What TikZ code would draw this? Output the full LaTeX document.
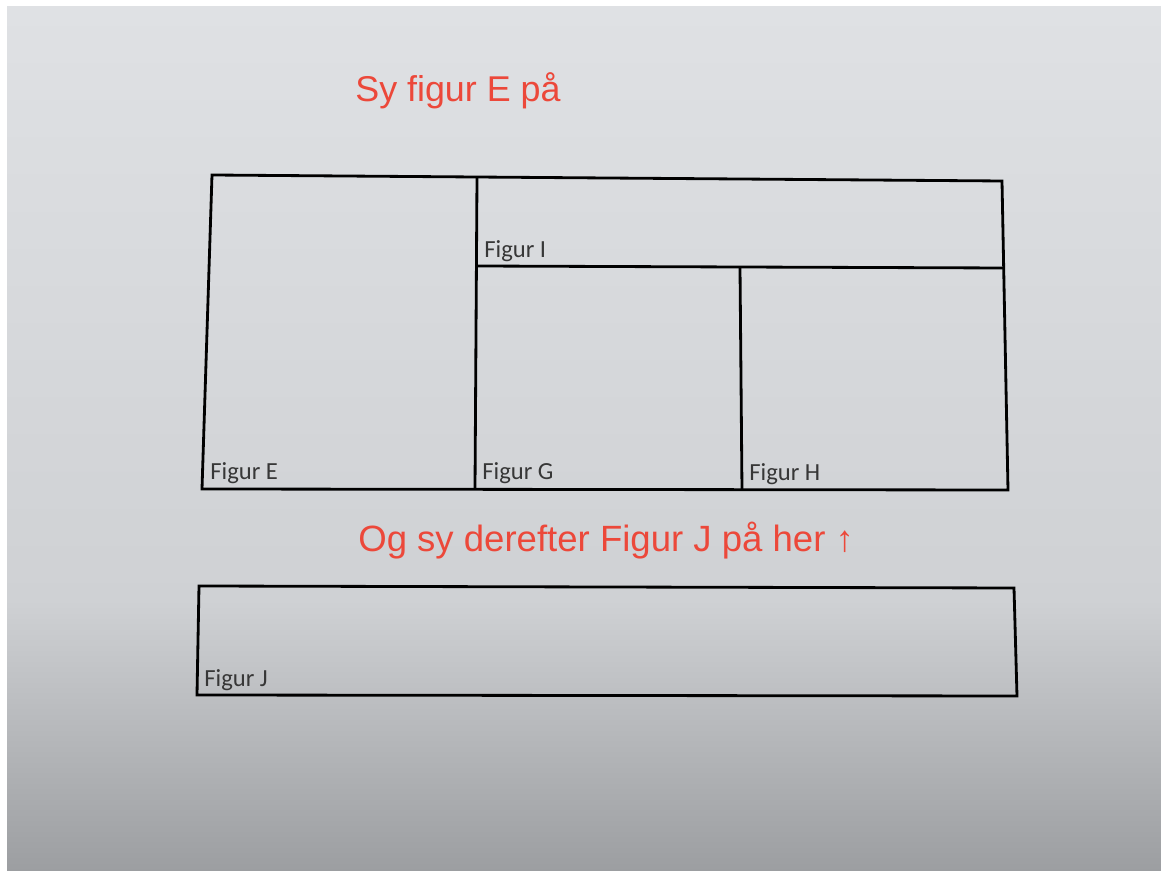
\documentclass[tikz,border=0pt]{standalone}
\usepackage{fontspec}
\setmainfont{Liberation Sans}
\newfontfamily\labelfont{Carlito}
\usepackage{xcolor}
\usetikzlibrary{positioning}
\definecolor{paper}{RGB}{223,225,228}
\definecolor{papermid}{RGB}{207,209,212}
\definecolor{paperdark}{RGB}{156,158,161}
\definecolor{notered}{RGB}{236,72,58}
\definecolor{labelgray}{RGB}{55,55,55}
\tikzset{
  frame/.style={line width=1.6pt, draw=black, line join=miter},
  figlabel/.style={anchor=base west, inner sep=0pt, text=labelgray,
                   font=\labelfont\fontsize{14}{16}\selectfont},
  note/.style={anchor=base west, inner sep=0pt, text=notered,
               font=\fontsize{20.4}{24}\selectfont},
}

\begin{document}
\begin{tikzpicture}[x=0.02cm, y=-0.02cm]
  % paper
  \fill[white] (0,0) rectangle (1161,874);
  \shade[top color=paper, bottom color=papermid] (7,7) rectangle (1161,601);
  \shade[top color=papermid, bottom color=paperdark] (7,600) rectangle (1161,871);
  \useasboundingbox (0,0) rectangle (1161,874);

  % upper panel: E, I, G, H
  \draw[frame] (212,175) -- (1002,181) -- (1008,490) -- (202,489) -- cycle;
  \draw[frame] (477,178) -- (475,489);
  \draw[frame] (477,266) -- (1003,268);
  \draw[frame] (740,267) -- (742,490);

  % lower strip: J
  \draw[frame] (199,586) -- (1014,588) -- (1017,696) -- (197,695) -- cycle;

  \node[note] (sew1) at (355,102) {Sy figur E på};
  \node[note, font=\fontsize{20.8}{24}\selectfont] (sew2) at (358,552)
    {Og sy derefter Figur J på her ↑};

  \node[figlabel] (figE) at (210,480) {Figur E};
  \node[figlabel] (figI) at (484,258) {Figur I};
  \node[figlabel] (figG) at (482,480) {Figur G};
  \node[figlabel] (figH) at (749,481) {Figur H};
  \node[figlabel] (figJ) at (204,687) {Figur J};
\end{tikzpicture}
\end{document}
